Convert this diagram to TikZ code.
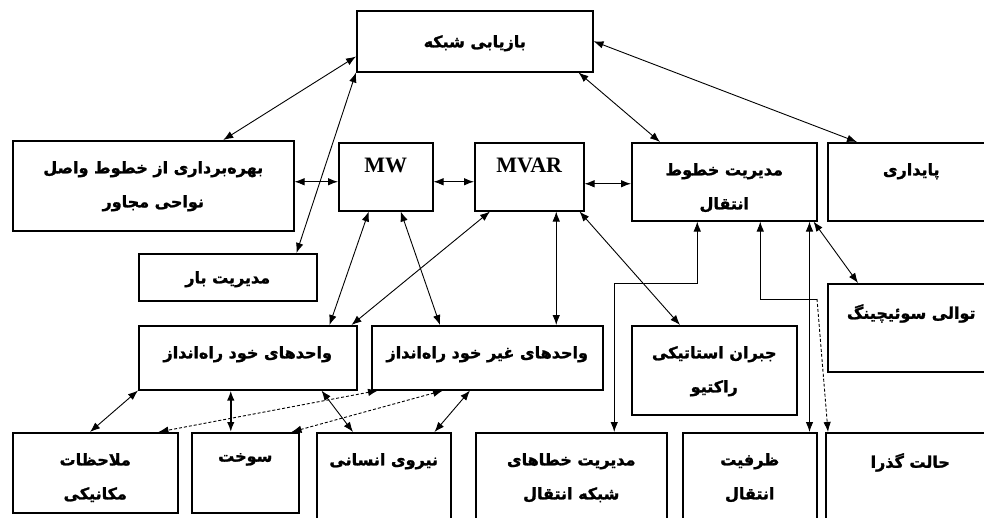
\documentclass[tikz,border=0pt]{standalone}
\usepackage{fontspec}
\setmainfont{Liberation Serif}
\newfontfamily\farsi[Script=Arabic, BoldFeatures={FakeBold=1.5}]{DejaVu Sans}
\TeXXeTstate=1
\usetikzlibrary{arrows.meta,calc}

\tikzset{
  box/.style={draw, line width=1.5pt, anchor=north west, inner sep=0pt},
  txt/.style={anchor=north, align=center, inner sep=0pt, yshift=-21pt,
              font=\farsi\bfseries\fontsize{16}{34}\selectfont},
  latin/.style={anchor=north, inner sep=0pt, yshift=-16pt,
                font=\fontsize{22}{26}\selectfont\bfseries},
  link/.style={<->, line width=0.9pt},
  >={Latex[length=10pt,width=7.5pt]},
}

\begin{document}
\begin{tikzpicture}[x=1pt,y=-1pt]
      \useasboundingbox (0,0) rectangle (984,517);
      \clip (0,0) rectangle (984,517);
      % boxes
      \node[box, minimum width=236pt, minimum height=61pt,
            label={[txt,yshift=-4pt]north:\beginR بازیابی شبکه\endR}] (net) at (356,10) {};
      \node[box, minimum width=281pt, minimum height=90pt,
            label={[txt]north:\beginR بهره‌برداری از خطوط واصل\endR\\\beginR نواحی مجاور\endR}] (adj) at (12,140) {};
      \node[box, minimum width=94pt, minimum height=68pt,
            label={[latin]north:MW}] (mw) at (338,142) {};
      \node[box, minimum width=109pt, minimum height=68pt,
            label={[latin]north:MVAR}] (mvar) at (474,142) {};
      \node[box, minimum width=185pt, minimum height=78pt,
            label={[txt]north:\beginR مدیریت خطوط\endR\\\beginR انتقال\endR}] (tl) at (631,142) {};
      \node[box, minimum width=167pt, minimum height=78pt,
            label={[txt]north:\beginR پایداری\endR}] (stab) at (827,142) {};
      \node[box, minimum width=178pt, minimum height=47pt,
            label={[txt,yshift=3pt]north:\beginR مدیریت بار\endR}] (load) at (138,253) {};
      \node[box, minimum width=167pt, minimum height=88pt,
            label={[txt]north:\beginR توالی سوئیچینگ\endR}] (seq) at (827,283) {};
      \node[box, minimum width=218pt, minimum height=64pt,
            label={[txt]north:\beginR واحدهای خود راه‌انداز\endR}] (bs) at (138,325) {};
      \node[box, minimum width=231pt, minimum height=64pt,
            label={[txt]north:\beginR واحدهای غیر خود راه‌انداز\endR}] (nbs) at (371,325) {};
      \node[box, minimum width=165pt, minimum height=89pt,
            label={[txt]north:\beginR جبران استاتیکی\endR\\\beginR راکتیو\endR}] (svc) at (631,325) {};
      \node[box, minimum width=165pt, minimum height=80pt,
            label={[txt]north:\beginR ملاحظات\endR\\\beginR مکانیکی\endR}] (mech) at (12,432) {};
      \node[box, minimum width=107pt, minimum height=80pt,
            label={[txt]north:\beginR سوخت\endR}] (fuel) at (191,432) {};
      \node[box, minimum width=134pt, minimum height=95pt,
            label={[txt]north:\beginR نیروی انسانی\endR}] (staff) at (316,432) {};
      \node[box, minimum width=191pt, minimum height=95pt,
            label={[txt]north:\beginR مدیریت خطاهای\endR\\\beginR شبکه انتقال\endR}] (fault) at (475,432) {};
      \node[box, minimum width=134pt, minimum height=95pt,
            label={[txt]north:\beginR ظرفیت\endR\\\beginR انتقال\endR}] (capac) at (682,432) {};
      \node[box, minimum width=169pt, minimum height=95pt,
            label={[txt]north:\beginR حالت گذرا\endR}] (trans) at (825,432) {};
      % links from the top box
      \draw[link] ($(adj.north)+(70,0)$) -- ($(net.south west)+(0,-16)$);
      \draw[link] (net.south west) -- ($(load.north east)+(-21,0)$);
      \draw[link] (net.east) -- ($(stab.north west)+(30,0)$);
      \draw[link] ($(net.south east)+(-15,0)$) -- ($(tl.north west)+(29,0)$);
      % middle row
      \draw[link] ([yshift=-5pt]mw.west -| adj.east) -- ([yshift=-5pt]mw.west);
      \draw[link] ([yshift=-5pt]mw.east) -- ([yshift=-5pt]mvar.west);
      \draw[link] ([yshift=-7pt]mvar.east) -- ([yshift=-7pt]mvar.east -| tl.west);
      \draw[link] ([xshift=-17pt]mw.south) -- ([xshift=-28pt]bs.north east);
      \draw[link] ([xshift=15pt]mw.south) -- ([xshift=69pt]nbs.north west);
      \draw[link] ([xshift=16pt]mvar.south west) -- ([xshift=-6pt]bs.north east);
      \draw[link] ([xshift=27pt]mvar.south) -- ([xshift=27pt]mvar.south |- nbs.north);
      \draw[link] ([xshift=-5pt]mvar.south east) -- ([xshift=49pt]svc.north west);
      % transmission lines
      \draw[link] ([xshift=-27pt]tl.south) -- ++(0,62) -| ([xshift=43pt]fault.north);
      \coordinate (bend) at (817,299);
      \draw[<-, line width=0.9pt] ([xshift=36pt]tl.south) |- (bend);
      \draw[->, line width=0.9pt, dash pattern=on 3pt off 2pt] (bend) -- ([xshift=3pt]trans.north west);
      \draw[link] ([xshift=-8pt]tl.south east) -- ([xshift=-8pt]capac.north east);
      \draw[link] ([xshift=-4pt]tl.south east) -- ([xshift=31pt]seq.north west);
      % units
      \draw[link] (bs.south west) -- ([xshift=78pt]mech.north west);
      \draw[link, line width=1.6pt] ([xshift=-17pt]bs.south) -- ([xshift=-17pt]bs.south |- fuel.north);
      \draw[link] ([xshift=-36pt]bs.south east) -- ([xshift=37pt]staff.north west);
      \draw[link, dash pattern=on 3pt off 2pt] ([xshift=7pt]nbs.south west) -- ([xshift=-20pt]mech.north east);
      \draw[link, dash pattern=on 3pt off 2pt] ([xshift=72pt]nbs.south west) -- ([xshift=-8pt]fuel.north east);
      \draw[link] ([xshift=99pt]nbs.south west) -- ([xshift=-17pt]staff.north east);
\end{tikzpicture}
\end{document}
